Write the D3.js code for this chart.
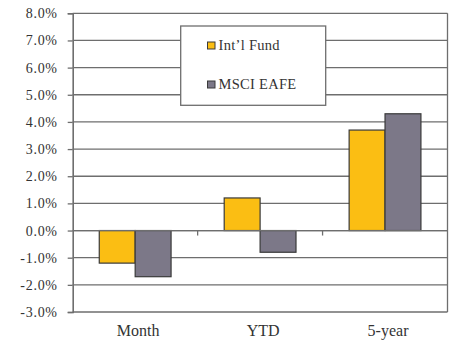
<!DOCTYPE html>
<html>
<head>
<meta charset="utf-8">
<script src="https://cdn.jsdelivr.net/npm/d3@7"></script>
<style>
  html, body { margin: 0; padding: 0; background: #fff; }
  svg text { font-family: "Liberation Serif", serif; fill: #333; }
</style>
</head>
<body>
<svg id="chart" width="455" height="341"></svg>
<script>
// Returns by period, in percent
const categories = ["Month", "YTD", "5-year"];
const seriesNames = ["Int\u2019l Fund", "MSCI EAFE"];
const fundValues = [-1.2, 1.2, 3.7];
const eafeValues = [-1.7, -0.8, 4.3];
const yTicks = [-3, -2, -1, 0, 1, 2, 3, 4, 5, 6, 7, 8];
const colors = ["#FBBE13", "#7C7888"];

const seriesValues = [fundValues, eafeValues];

const svg = d3.select("#chart");
const margin = { left: 72.7, right: 7.5, top: 13.3, bottom: 29 };
const W = 455, H = 341;
const x0 = margin.left, x1 = W - margin.right;
const y0 = margin.top, y1 = H - margin.bottom;

const y = d3.scaleLinear().domain([-3, 8]).range([y1, y0]);
const xCat = d3.scaleBand().domain(categories).range([x0, x1]).padding(0);
const xSer = d3.scaleBand().domain(d3.range(seriesNames.length))
  .range([0, xCat.bandwidth()]).paddingInner(0).paddingOuter(0.74);

const gridColor = "#6e6e6e";
const serif = "'Liberation Serif', serif";

// horizontal gridlines
svg.append("g").selectAll("line").data(yTicks).join("line")
  .attr("x1", x0).attr("x2", x1)
  .attr("y1", d => y(d)).attr("y2", d => y(d))
  .attr("stroke", gridColor).attr("stroke-width", 1.3);

// right border of the plot area
svg.append("line")
  .attr("x1", x1).attr("x2", x1).attr("y1", y0).attr("y2", y1)
  .attr("stroke", gridColor).attr("stroke-width", 1.3);

// value axis
const yAxis = d3.axisLeft(y).tickValues(yTicks)
  .tickFormat(d => d.toFixed(1) + "%").tickSize(5).tickPadding(10);
const gy = svg.append("g").attr("transform", `translate(${x0},0)`).call(yAxis)
  .attr("font-family", serif);
gy.select(".domain").attr("stroke", gridColor).attr("stroke-width", 1.6);
gy.selectAll(".tick line").attr("stroke", gridColor).attr("stroke-width", 1.3);
gy.selectAll(".tick text")
  .style("font-family", serif)
  .style("font-size", "14px").style("letter-spacing", "0.7px").attr("fill", "#333");

// bars
const groups = svg.append("g").selectAll("g").data(categories).join("g")
  .attr("transform", d => `translate(${xCat(d)},0)`);
groups.selectAll("rect")
  .data((c, i) => seriesValues.map((vals, s) => ({ s, v: vals[i] })))
  .join("rect")
  .attr("x", d => xSer(d.s))
  .attr("width", xSer.bandwidth())
  .attr("y", d => y(Math.max(0, d.v)))
  .attr("height", d => Math.abs(y(d.v) - y(0)))
  .attr("fill", d => colors[d.s])
  .attr("stroke", "#3a3a3a").attr("stroke-width", 1.2);

// category axis along zero, with ticks between categories
svg.append("line")
  .attr("x1", x0).attr("x2", x1).attr("y1", y(0)).attr("y2", y(0))
  .attr("stroke", gridColor).attr("stroke-width", 1.3);
svg.append("g").selectAll("line").data(categories.slice(1)).join("line")
  .attr("x1", d => xCat(d)).attr("x2", d => xCat(d))
  .attr("y1", y(0)).attr("y2", y(0) + 5)
  .attr("stroke", gridColor).attr("stroke-width", 1.3);

// category labels under the plot
svg.append("g").selectAll("text").data(categories).join("text")
  .attr("x", d => xCat(d) + xCat.bandwidth() / 2 + 3)
  .attr("y", y1 + 24)
  .attr("text-anchor", "middle")
  .style("font-family", serif)
  .style("font-size", "16px")
  .text(d => d);

// legend
const lg = svg.append("g");
lg.append("rect")
  .attr("x", 180.7).attr("y", 26).attr("width", 145).attr("height", 79.3)
  .attr("fill", "#fff").attr("stroke", gridColor).attr("stroke-width", 1.3);
const items = lg.selectAll("g.item").data(seriesNames).join("g")
  .attr("class", "item")
  .attr("transform", (d, i) => `translate(207.5,${45.5 + i * 39})`);
items.append("rect")
  .attr("x", 0).attr("y", -3.5).attr("width", 7.5).attr("height", 7)
  .attr("fill", (d, i) => colors[i]).attr("stroke", "#3a3a3a").attr("stroke-width", 1);
items.append("text")
  .attr("x", 11).attr("y", 4.5)
  .style("font-family", serif)
  .style("font-size", "14.5px")
  .style("letter-spacing", "0.3px")
  .text(d => d);
</script>
</body>
</html>
